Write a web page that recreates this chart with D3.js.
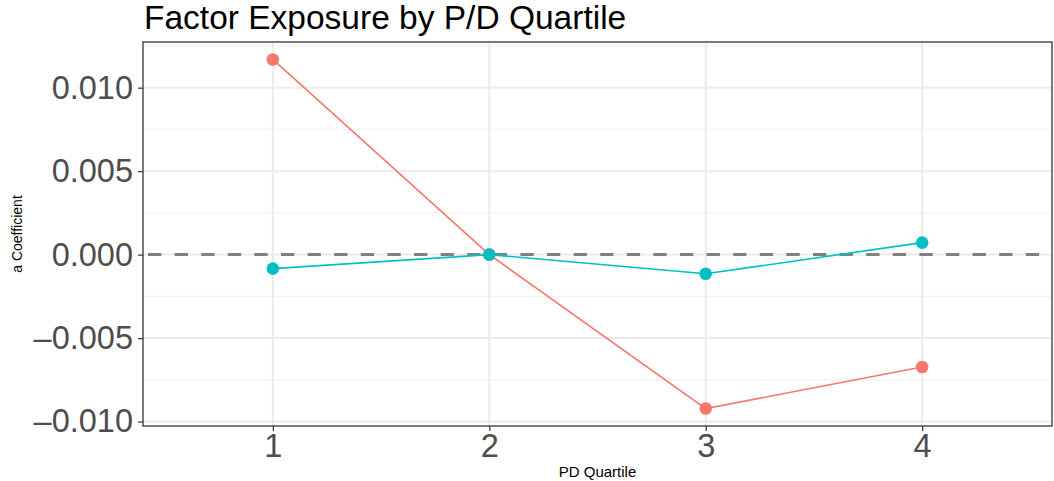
<!DOCTYPE html>
<html>
<head>
<meta charset="utf-8">
<script src="https://cdn.jsdelivr.net/npm/d3@7"></script>
<style>
  html, body { margin: 0; padding: 0; background: #fff; }
  svg text { font-family: "Liberation Sans", Arial, Helvetica, sans-serif; }
</style>
</head>
<body>
<svg id="chart" width="1054" height="481"></svg>
<script>
// Quartile categories and the two coefficient series
const quartiles = ["1", "2", "3", "4"];
const seriesNames = ["a", "b"];
const seriesA = [0.01169, 0.0, -0.00922, -0.00673];
const seriesB = [-0.00084, 0.0, -0.00115, 0.00072];
const yTicks = [-0.010, -0.005, 0.000, 0.005, 0.010];
const yMinor = [-0.0075, -0.0025, 0.0025, 0.0075, 0.0125];
const colors = ["#F8766D", "#00BFC4"];

const svg = d3.select("#chart");
const W = 1054, H = 481;
const panel = { left: 143, top: 42, right: 1052, bottom: 426 };

// Discrete x scale with 0.6 unit padding on each side
const x = d3.scaleLinear()
  .domain([0.4, quartiles.length + 0.6])
  .range([panel.left, panel.right]);
const xPos = q => x(quartiles.indexOf(q) + 1);

// Continuous y scale with 5% expansion around the data
const all = seriesA.concat(seriesB);
const [lo, hi] = d3.extent(all);
const pad = (hi - lo) * 0.05;
const y = d3.scaleLinear()
  .domain([lo - pad, hi + pad])
  .range([panel.bottom, panel.top]);

svg.append("rect").attr("width", W).attr("height", H).attr("fill", "#fff");

const g = svg.append("g");

// Minor grid
g.selectAll("line.ymin").data(yMinor.filter(v => y(v) >= panel.top && y(v) <= panel.bottom))
  .join("line")
  .attr("x1", panel.left).attr("x2", panel.right)
  .attr("y1", d => y(d)).attr("y2", d => y(d))
  .attr("stroke", "#F2F2F2").attr("stroke-width", 1.2);

// Major grid
g.selectAll("line.ymaj").data(yTicks)
  .join("line")
  .attr("x1", panel.left).attr("x2", panel.right)
  .attr("y1", d => y(d)).attr("y2", d => y(d))
  .attr("stroke", "#EBEBEB").attr("stroke-width", 2);
g.selectAll("line.xmaj").data(quartiles)
  .join("line")
  .attr("x1", d => xPos(d)).attr("x2", d => xPos(d))
  .attr("y1", panel.top).attr("y2", panel.bottom)
  .attr("stroke", "#EBEBEB").attr("stroke-width", 2);

// Zero reference line
g.append("line")
  .attr("x1", panel.left).attr("x2", panel.right)
  .attr("y1", y(0)).attr("y2", y(0))
  .attr("stroke", "#808080").attr("stroke-width", 3)
  .attr("stroke-dasharray", "13.3,13.3")
  .attr("stroke-dashoffset", -5);

// Series lines and points
const seriesData = [seriesA, seriesB];
const line = d3.line().x((d, i) => xPos(quartiles[i])).y(d => y(d));
seriesData.forEach((vals, k) => {
  g.append("path")
    .datum(vals)
    .attr("d", line)
    .attr("fill", "none")
    .attr("stroke", colors[k])
    .attr("stroke-width", 1.6);
});
seriesData.forEach((vals, k) => {
  g.selectAll(null).data(vals)
    .join("circle")
    .attr("cx", (d, i) => xPos(quartiles[i]))
    .attr("cy", d => y(d))
    .attr("r", 6.3)
    .attr("fill", colors[k]);
});

// Panel border
g.append("rect")
  .attr("x", panel.left).attr("y", panel.top)
  .attr("width", panel.right - panel.left).attr("height", panel.bottom - panel.top)
  .attr("fill", "none").attr("stroke", "#333333").attr("stroke-width", 1.3);

// Y axis
const fmt = v => {
  const s = d3.format(".3f")(Math.abs(v));
  return v < 0 ? "\u2013" + s : s;
};
const yAxis = svg.append("g")
  .attr("transform", `translate(${panel.left},0)`)
  .call(d3.axisLeft(y).tickValues(yTicks).tickSize(5).tickPadding(5).tickFormat(fmt));
yAxis.select(".domain").remove();
yAxis.selectAll(".tick line").attr("stroke", "#333333").attr("stroke-width", 1.2);
yAxis.selectAll(".tick text")
  .attr("fill", "#4D4D4D").attr("font-size", 32.5)
  .attr("font-family", "Liberation Sans, Arial, sans-serif");

// X axis
const xAxis = svg.append("g")
  .attr("transform", `translate(0,${panel.bottom})`)
  .call(d3.axisBottom(x).tickValues(quartiles.map((q, i) => i + 1)).tickSize(5).tickPadding(3)
    .tickFormat((d, i) => quartiles[i]));
xAxis.select(".domain").remove();
xAxis.selectAll(".tick line").attr("stroke", "#333333").attr("stroke-width", 1.2);
xAxis.selectAll(".tick text")
  .attr("fill", "#4D4D4D").attr("font-size", 32.5)
  .attr("font-family", "Liberation Sans, Arial, sans-serif");

// Titles
svg.append("text")
  .attr("x", 144).attr("y", 29)
  .attr("font-size", 33.5).attr("fill", "#000")
  .text("Factor Exposure by P/D Quartile");

svg.append("text")
  .attr("x", (panel.left + panel.right) / 2).attr("y", 477)
  .attr("text-anchor", "middle").attr("font-size", 15).attr("fill", "#000")
  .text("PD Quartile");

svg.append("text")
  .attr("transform", `translate(22,${(panel.top + panel.bottom) / 2}) rotate(-90)`)
  .attr("text-anchor", "middle").attr("font-size", 14).attr("fill", "#000")
  .text("a Coefficient");
</script>
</body>
</html>
